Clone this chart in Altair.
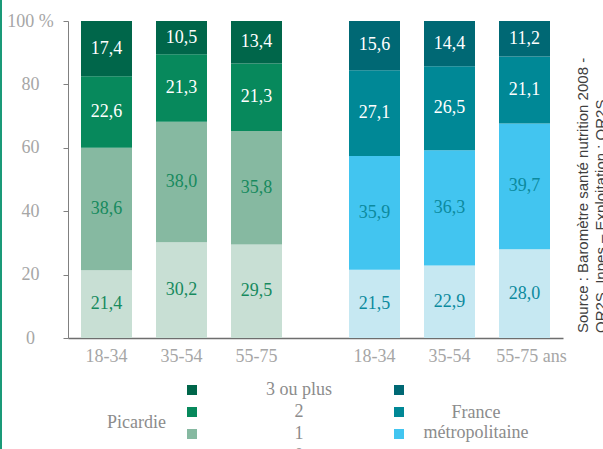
import altair as alt
import pandas as pd

# Categories
regions = ["Picardie", "France"]
ages = ["18-34", "35-54", "55-75"]
age_labels = {"Picardie": ["18-34", "35-54", "55-75"],
              "France": ["18-34", "35-54", "55-75 ans"]}
levels = ["3 ou plus", "2", "1", "0"]          # legend order, top to bottom
stack_order = ["0", "1", "2", "3 ou plus"]     # bottom to top of each bar

# Shares (%) per age group, one list per level
picardie = {
    "0": [21.4, 30.2, 29.5],
    "1": [38.6, 38.0, 35.8],
    "2": [22.6, 21.3, 21.3],
    "3 ou plus": [17.4, 10.5, 13.4],
}
france = {
    "0": [21.5, 22.9, 28.0],
    "1": [35.9, 36.3, 39.7],
    "2": [27.1, 26.5, 21.1],
    "3 ou plus": [15.6, 14.4, 11.2],
}

picardie_colors = ["#00664a", "#07895c", "#86b9a1", "#c8dfd4"]
france_colors = ["#006874", "#008896", "#42c5f0", "#c6e8f2"]
picardie_dark_text = "#178a5e"
france_dark_text = "#0c8a9e"

source_lines = ["Source : Baromètre santé nutrition 2008 -",
                "OR2S, Inpes – Exploitation : OR2S"]

SERIF = "Liberation Serif"
GREY = "#a6a6a6"
LEGEND_GREY = "#8c8c8c"


def build_rows(region, series, dark_text):
    rows = []
    for i, age in enumerate(ages):
        start = 0.0
        for lvl in stack_order:
            v = series[lvl][i]
            end = start + v
            rows.append({
                "region": region, "age": age, "niveau": lvl,
                "value": v, "start": start, "end": end,
                "mid": (start + end) / 2,
                "label": f"{v:.1f}".replace(".", ","),
                "tcolor": "white" if lvl in ("2", "3 ou plus") else dark_text,
            })
            start = end
    return rows


pic_df = pd.DataFrame(build_rows("Picardie", picardie, picardie_dark_text))
fr_df = pd.DataFrame(build_rows("France", france, france_dark_text))
all_df = pd.concat([pic_df, fr_df], ignore_index=True)
age_df = pd.DataFrame([
    {"region": r, "age": a, "age_label": age_labels[r][i]}
    for r in regions for i, a in enumerate(ages)
])

x_enc = alt.X("region:N", sort=regions,
              scale=alt.Scale(domain=regions, paddingInner=0.25, paddingOuter=0.0485),
              axis=alt.Axis(labels=False, ticks=False, title=None, grid=False,
                            domainColor="#6e6e6e", domainWidth=1.5))
xo_enc = alt.XOffset("age:N", sort=ages,
                     scale=alt.Scale(domain=ages, paddingInner=0.32, paddingOuter=0))
y_enc = alt.Y("start:Q",
              scale=alt.Scale(domain=[0, 100], nice=False, clamp=True),
              axis=alt.Axis(values=[0, 20, 40, 60, 80, 100], title=None, grid=False,
                            tickSize=5, tickColor="#808080", domainColor="#808080",
                            labelFont=SERIF, labelFontSize=18, labelColor=GREY,
                            labelAlign="center", labelPadding=33,
                            labelExpr="datum.value == 100 ? '100 %' : datum.label"))

common_legend = dict(
    orient="none", padding=0, symbolType="square", symbolSize=100,
    symbolStrokeWidth=0, symbolOpacity=1, rowPadding=4,
    titleFont=SERIF, titleFontSize=18, titleFontWeight="normal",
    titleColor=LEGEND_GREY, titleAnchor="middle",
    labelFont=SERIF, labelFontSize=18, labelColor=LEGEND_GREY,
)

pic_legend = alt.Legend(
    legendX=39, legendY=360, title="Picardie", titleOrient="left",
    titleBaseline="middle", titlePadding=17, labelAlign="center", labelOffset=98,
    **common_legend)

fr_legend = alt.Legend(
    legendX=322, legendY=360, title=["France", "métropolitaine"],
    titleOrient="right", titleAlign="center", titleBaseline="middle",
    titleLineHeight=20, titlePadding=64, labelExpr="''",
    **common_legend)

pic_bars = alt.Chart(pic_df).mark_bar().encode(
    x=x_enc, xOffset=xo_enc, y=y_enc, y2="end:Q",
    color=alt.Color("niveau:N", sort=levels,
                    scale=alt.Scale(domain=levels, range=picardie_colors),
                    legend=pic_legend),
)

fr_bars = alt.Chart(fr_df).mark_bar().encode(
    x=x_enc, xOffset=xo_enc, y=y_enc, y2="end:Q",
    color=alt.Color("niveau:N", sort=levels,
                    scale=alt.Scale(domain=levels, range=france_colors),
                    legend=fr_legend),
)

value_text = alt.Chart(all_df).mark_text(font=SERIF, fontSize=18, baseline="middle").encode(
    x=alt.X("region:N", sort=regions),
    xOffset=alt.XOffset("age:N", sort=ages),
    y="mid:Q",
    text="label:N",
    color=alt.Color("tcolor:N", scale=None),
)

# Age-group labels under the axis; the last one carries the unit and sits a bit right
age_base = alt.Chart(age_df).encode(
    x=alt.X("region:N", sort=regions),
    xOffset=alt.XOffset("age:N", sort=ages),
    y=alt.value(336),
    text="age_label:N",
)
age_text = age_base.transform_filter(
    "datum.age_label != '55-75 ans'"
).mark_text(font=SERIF, fontSize=18, color=GREY, baseline="middle")
age_text_unit = age_base.transform_filter(
    "datum.age_label == '55-75 ans'"
).mark_text(font=SERIF, fontSize=18, color=GREY, baseline="middle", dx=7)

source_text = alt.Chart(pd.DataFrame({"k": [0]})).mark_text(
    text=source_lines, font="Liberation Sans", fontSize=15, color="#404040",
    angle=270, align="left", baseline="middle", lineHeight=18,
).encode(x=alt.value(515), y=alt.value(312))

border = alt.Chart(pd.DataFrame({"k": [0]})).mark_rule(
    color="#1a9a78", strokeWidth=2
).encode(x=alt.value(-67), y=alt.value(-21), y2=alt.value(428))

chart = alt.layer(
    pic_bars, fr_bars, value_text, age_text, age_text_unit, source_text, border
).resolve_scale(
    color="independent"
).properties(
    width=495, height=317,
    autosize=alt.AutoSizeParams(type="none"),
    padding={"left": 68, "top": 21, "right": 40, "bottom": 111},
).configure_view(stroke=None)

chart.save("out.html", embed_options={"renderer": "svg", "actions": False})
